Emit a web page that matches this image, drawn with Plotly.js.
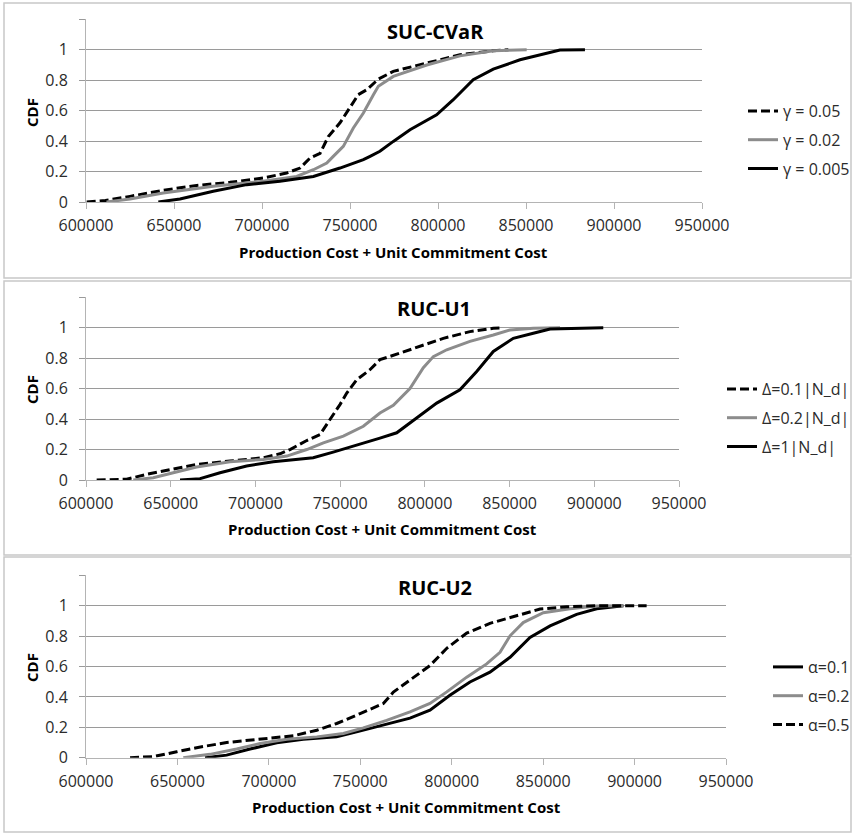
<!DOCTYPE html>
<html>
<head>
<meta charset="utf-8">
<script src="https://cdn.plot.ly/plotly-3.0.1.min.js"></script>
<style>
html,body{margin:0;padding:0;background:#fff;}
#chart{width:855px;height:834px;}
</style>
</head>
<body>
<div id="chart"></div>
<script>
// ---------- Panel titles / labels ----------
const panelTitles = ["SUC-CVaR", "RUC-U1", "RUC-U2"];
const xTitle = "Production Cost + Unit Commitment Cost";
const yTitle = "CDF";
const xTickVals = [600000, 650000, 700000, 750000, 800000, 850000, 900000, 950000];
const yTickVals = [0, 0.2, 0.4, 0.6, 0.8, 1, 1.2];
const yTickText = ["0", "0.2", "0.4", "0.6", "0.8", "1", ""];

// ---------- Panel 1: SUC-CVaR ----------
const sucNames = ["γ = 0.05", "γ = 0.02", "γ = 0.005"];
const sucX_g005 = [600400, 611000, 625000, 643900, 662900, 681800, 700700, 714000, 721600, 727300, 733000, 737700, 744300, 750000, 754700, 759500, 766100, 774600, 793600, 812500, 831300, 840000];
const sucY_g005 = [0, 0.01, 0.037, 0.077, 0.109, 0.129, 0.158, 0.19, 0.223, 0.289, 0.32, 0.43, 0.52, 0.617, 0.705, 0.737, 0.807, 0.858, 0.912, 0.967, 0.993, 1.0];
const sucX_g002 = [611700, 625000, 643900, 672300, 700700, 719700, 729200, 736800, 740500, 746200, 751900, 757600, 763300, 766100, 774600, 793600, 812500, 831400, 850400];
const sucY_g002 = [0, 0.02, 0.059, 0.103, 0.136, 0.168, 0.212, 0.256, 0.3, 0.365, 0.486, 0.584, 0.705, 0.76, 0.825, 0.9, 0.96, 0.993, 1.0];
const sucX_g0005 = [641100, 653400, 672300, 691300, 710200, 729200, 744300, 757600, 761400, 767000, 774600, 784100, 799200, 808700, 820000, 831400, 846600, 861700, 869300, 883500];
const sucY_g0005 = [0, 0.02, 0.07, 0.114, 0.136, 0.168, 0.223, 0.278, 0.3, 0.333, 0.398, 0.475, 0.573, 0.672, 0.803, 0.873, 0.934, 0.978, 0.998, 1.0];

// ---------- Panel 2: RUC-U1 ----------
const u1Names = ["Δ=0.1|N_d|", "Δ=0.2|N_d|", "Δ=1|N_d|"];
const u1X_d01 = [606300, 624000, 635800, 651500, 665300, 685000, 704600, 714500, 720400, 730300, 738100, 744000, 749900, 753900, 759800, 767600, 773500, 785300, 797100, 810900, 826600, 840400, 846300];
const u1Y_d01 = [0, 0.005, 0.037, 0.07, 0.102, 0.124, 0.146, 0.172, 0.2, 0.259, 0.298, 0.397, 0.495, 0.571, 0.658, 0.724, 0.79, 0.833, 0.876, 0.93, 0.974, 0.996, 1.0];
const u1X_d02 = [627900, 639700, 651500, 665300, 685000, 704600, 718500, 730300, 740100, 751900, 763700, 773500, 781400, 791200, 799100, 805000, 812900, 826600, 840400, 850200, 864000, 879800];
const u1Y_d02 = [0, 0.015, 0.048, 0.085, 0.12, 0.135, 0.157, 0.2, 0.244, 0.288, 0.353, 0.44, 0.49, 0.6, 0.737, 0.81, 0.855, 0.91, 0.952, 0.985, 0.996, 1.0];
const u1X_d1 = [655500, 667300, 679100, 694800, 710500, 724300, 734100, 745900, 757700, 765600, 773500, 783400, 795200, 807000, 820700, 830600, 840400, 852200, 864000, 873900, 905300];
const u1Y_d1 = [0, 0.009, 0.048, 0.092, 0.12, 0.135, 0.146, 0.183, 0.222, 0.245, 0.275, 0.31, 0.407, 0.505, 0.592, 0.713, 0.844, 0.93, 0.963, 0.991, 1.0];

// ---------- Panel 3: RUC-U2 ----------
const u2Names = ["α=0.1", "α=0.2", "α=0.5"];
const u2X_a01 = [665100, 676900, 689700, 704300, 718800, 737100, 748000, 759000, 766300, 777200, 788100, 799000, 810000, 820900, 831900, 842800, 853800, 868300, 879300, 893900];
const u2Y_a01 = [0, 0.017, 0.057, 0.098, 0.122, 0.137, 0.17, 0.203, 0.225, 0.26, 0.313, 0.411, 0.498, 0.563, 0.661, 0.791, 0.867, 0.943, 0.98, 1.0];
const u2X_a02 = [653200, 667800, 682400, 695200, 709800, 726200, 740700, 751700, 764400, 777200, 788100, 797300, 808200, 819100, 826400, 831900, 839100, 850100, 864700, 879300, 893900];
const u2Y_a02 = [0, 0.022, 0.057, 0.093, 0.122, 0.137, 0.159, 0.196, 0.246, 0.302, 0.357, 0.433, 0.53, 0.617, 0.693, 0.802, 0.889, 0.954, 0.98, 0.998, 1.0];
const u2X_a05 = [624100, 636800, 649600, 660500, 676900, 695200, 713400, 726200, 737100, 749900, 762600, 768100, 777200, 788100, 797300, 808200, 820900, 835500, 848300, 862900, 880000, 906600];
const u2Y_a05 = [0, 0.007, 0.039, 0.066, 0.1, 0.122, 0.144, 0.181, 0.225, 0.29, 0.356, 0.432, 0.51, 0.606, 0.72, 0.82, 0.884, 0.934, 0.978, 0.993, 1.0, 1.0];

// ---------- styles ----------
const FONT = "Open Sans, Arial, sans-serif";
const TXT = "#2b2b2b";
const GRID = "#9a9a9a";
const AXL = "#b4b4b4";
const BLACK = {color: "#000000", width: 3};
const GRAY = {color: "#8c8c8c", width: 3};
const DASH = {color: "#000000", width: 3, dash: "9px,4px"};

function tr(x, y, name, line, xa, ya, lg, grp) {
  return {x: x, y: y, name: name, type: "scatter", mode: "lines", line: line,
          xaxis: xa, yaxis: ya, legend: lg, legendgroup: grp, hoverinfo: "skip"};
}

const data = [
  tr(sucX_g005, sucY_g005, sucNames[0], DASH, "x", "y", "legend", "a1"),
  tr(sucX_g002, sucY_g002, sucNames[1], GRAY, "x", "y", "legend", "a2"),
  tr(sucX_g0005, sucY_g0005, sucNames[2], BLACK, "x", "y", "legend", "a3"),
  tr(u1X_d01, u1Y_d01, u1Names[0], DASH, "x2", "y2", "legend2", "b1"),
  tr(u1X_d02, u1Y_d02, u1Names[1], GRAY, "x2", "y2", "legend2", "b2"),
  tr(u1X_d1, u1Y_d1, u1Names[2], BLACK, "x2", "y2", "legend2", "b3"),
  tr(u2X_a01, u2Y_a01, u2Names[0], BLACK, "x3", "y3", "legend3", "c1"),
  tr(u2X_a02, u2Y_a02, u2Names[1], GRAY, "x3", "y3", "legend3", "c2"),
  tr(u2X_a05, u2Y_a05, u2Names[2], DASH, "x3", "y3", "legend3", "c3")
];

const W = 855, H = 834;
const px = v => v / W;
const py = v => 1 - v / H;

function xax(l, r, anchor) {
  return {domain: [px(l), px(r)], anchor: anchor, range: [600000, 950000],
          tickmode: "array", tickvals: xTickVals, ticktext: xTickVals.map(String),
          showgrid: false, zeroline: false, showline: true, linecolor: AXL, linewidth: 1,
          ticks: "outside", ticklen: 6, tickcolor: AXL, tickwidth: 1, ticklabelstandoff: 3,
          tickfont: {family: FONT, size: 16, color: TXT}, fixedrange: true};
}
function yax(top, bot, anchor) {
  return {domain: [py(bot), py(top)], anchor: anchor, range: [0, 1.2001],
          tickmode: "array", tickvals: yTickVals, ticktext: yTickText,
          showgrid: true, gridcolor: GRID, gridwidth: 1, zeroline: false,
          showline: true, linecolor: AXL, linewidth: 1,
          ticks: "outside", ticklen: 6, tickcolor: GRID, tickwidth: 1, ticklabelstandoff: 8,
          tickfont: {family: FONT, size: 16, color: TXT}, fixedrange: true};
}

function ann(text, x, y, size, bold, rot) {
  return {text: bold ? "<b>" + text + "</b>" : text, xref: "paper", yref: "paper",
          x: px(x), y: py(y), xanchor: "center", yanchor: "middle", showarrow: false,
          textangle: rot || 0, font: {family: FONT, size: size, color: "#000"}};
}

function legendCfg(xl, yc) {
  return {x: px(xl), y: py(yc), xanchor: "left", yanchor: "middle",
          bgcolor: "rgba(0,0,0,0)", borderwidth: 0, tracegroupgap: 5,
          font: {family: FONT, size: 16, color: TXT}, itemwidth: 30};
}

function box(y0, y1) {
  return {type: "rect", xref: "paper", yref: "paper", x0: px(4), x1: px(851), y0: py(y1), y1: py(y0),
          line: {color: "#c8c8c8", width: 1.5}, fillcolor: "rgba(0,0,0,0)", layer: "below"};
}

const layout = {
  width: W, height: H, margin: {l: 0, r: 0, t: 0, b: 0},
  paper_bgcolor: "#ffffff", plot_bgcolor: "#ffffff",
  showlegend: true,
  xaxis: xax(86, 702, "y"), yaxis: yax(19.3, 202, "x"),
  xaxis2: xax(86, 679, "y2"), yaxis2: yax(297.2, 480, "x2"),
  xaxis3: xax(86, 726, "y3"), yaxis3: yax(575.3, 757.7, "x3"),
  legend: legendCfg(743, 140),
  legend2: legendCfg(722, 418),
  legend3: legendCfg(768, 696),
  annotations: [
    ann(panelTitles[0], 435, 32, 20, true),
    ann(panelTitles[1], 434, 309, 20, true),
    ann(panelTitles[2], 435, 587, 20, true),
    ann(xTitle, 393, 252, 15, true),
    ann(xTitle, 382, 529, 15, true),
    ann(xTitle, 406, 807, 15, true),
    ann(yTitle, 32, 113, 15, true, -90),
    ann(yTitle, 32, 390, 15, true, -90),
    ann(yTitle, 32, 668, 15, true, -90)
  ],
  shapes: [box(3, 278), box(281, 555), box(557, 832)]
};

Plotly.newPlot("chart", data, layout, {displayModeBar: false, staticPlot: true});
</script>
</body>
</html>
